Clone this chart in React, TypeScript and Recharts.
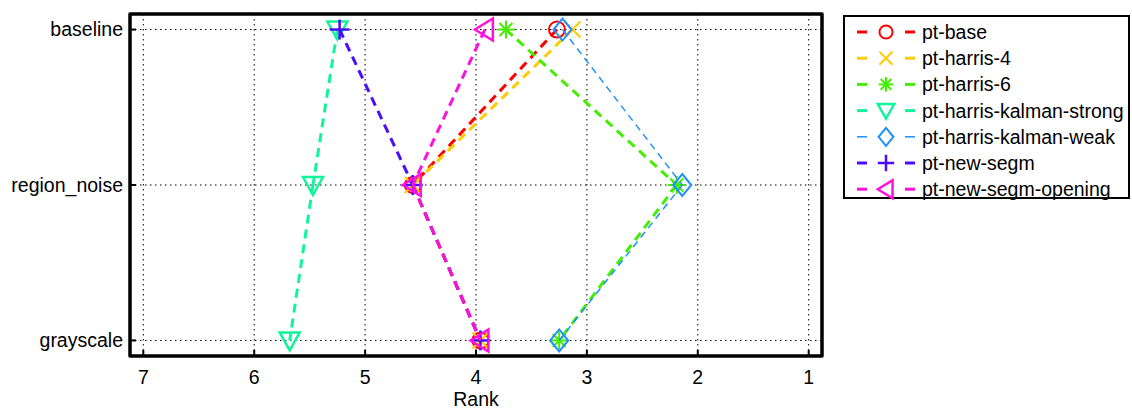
import React from 'react';
import { ScatterChart, Scatter, XAxis, YAxis, CartesianGrid, ReferenceArea } from 'recharts';

// test conditions, top to bottom, and the level each one sits at on the y axis
const conditions = ['baseline', 'region_noise', 'grayscale'];
const conditionLevels = [3, 2, 1];

const rankTicks = [1, 2, 3, 4, 5, 6, 7];

// average rank per condition (baseline, region_noise, grayscale)
const rankPtBase = [3.27, 4.57, 3.96];
const rankPtHarris4 = [3.13, 4.57, 3.96];
const rankPtHarris6 = [3.73, 2.19, 3.25];
const rankPtHarrisKalmanStrong = [5.25, 5.47, 5.68];
const rankPtHarrisKalmanWeak = [3.22, 2.14, 3.25];
const rankPtNewSegm = [5.23, 4.57, 3.96];
const rankPtNewSegmOpening = [3.92, 4.57, 3.96];

type MarkerKind = 'circle' | 'cross' | 'star' | 'triDown' | 'diamond' | 'plus' | 'triLeft';

interface Method {
  name: string;
  ranks: number[];
  color: string;
  marker: MarkerKind;
  width: number;
  dash: string;
}

const methods: Method[] = [
  { name: 'pt-base', ranks: rankPtBase, color: '#ff0000', marker: 'circle', width: 3, dash: '9 6' },
  { name: 'pt-harris-4', ranks: rankPtHarris4, color: '#ffcc00', marker: 'cross', width: 3, dash: '9 6' },
  { name: 'pt-harris-6', ranks: rankPtHarris6, color: '#44ee00', marker: 'star', width: 3, dash: '9 6' },
  { name: 'pt-harris-kalman-strong', ranks: rankPtHarrisKalmanStrong, color: '#11f59a', marker: 'triDown', width: 3, dash: '9 6' },
  { name: 'pt-harris-kalman-weak', ranks: rankPtHarrisKalmanWeak, color: '#1e90ff', marker: 'diamond', width: 1.5, dash: '7 5' },
  { name: 'pt-new-segm', ranks: rankPtNewSegm, color: '#4a0cff', marker: 'plus', width: 3, dash: '9 6' },
  { name: 'pt-new-segm-opening', ranks: rankPtNewSegmOpening, color: '#ff11dd', marker: 'triLeft', width: 3, dash: '9 6' },
];

const FONT = '"Liberation Sans", Arial, sans-serif';
const rankDomain: [number, number] = [0.88, 7.12];
const levelDomain: [number, number] = [0.9, 3.1];

function Glyph({ kind, cx, cy, color, s = 1 }: { kind: MarkerKind; cx: number; cy: number; color: string; s?: number }) {
  const common = { stroke: color, strokeWidth: 2, fill: 'none' };
  switch (kind) {
    case 'circle':
      return <circle cx={cx} cy={cy} r={8 * s} {...common} />;
    case 'cross':
      return (
        <g {...common}>
          <line x1={cx - 8 * s} y1={cy - 8 * s} x2={cx + 8 * s} y2={cy + 8 * s} />
          <line x1={cx - 8 * s} y1={cy + 8 * s} x2={cx + 8 * s} y2={cy - 8 * s} />
        </g>
      );
    case 'star':
      return (
        <g {...common}>
          <line x1={cx - 9 * s} y1={cy} x2={cx + 9 * s} y2={cy} />
          <line x1={cx} y1={cy - 9 * s} x2={cx} y2={cy + 9 * s} />
          <line x1={cx - 6.5 * s} y1={cy - 6.5 * s} x2={cx + 6.5 * s} y2={cy + 6.5 * s} />
          <line x1={cx - 6.5 * s} y1={cy + 6.5 * s} x2={cx + 6.5 * s} y2={cy - 6.5 * s} />
        </g>
      );
    case 'triDown':
      return (
        <polygon
          points={`${cx - 10 * s},${cy - 8 * s} ${cx + 10 * s},${cy - 8 * s} ${cx},${cy + 10 * s}`}
          {...common}
          strokeWidth={2.5}
        />
      );
    case 'diamond':
      return (
        <polygon
          points={`${cx},${cy - 11 * s} ${cx + 9 * s},${cy} ${cx},${cy + 11 * s} ${cx - 9 * s},${cy}`}
          {...common}
        />
      );
    case 'plus':
      return (
        <g {...common} strokeWidth={2.5}>
          <line x1={cx - 10 * s} y1={cy} x2={cx + 10 * s} y2={cy} />
          <line x1={cx} y1={cy - 10 * s} x2={cx} y2={cy + 10 * s} />
        </g>
      );
    case 'triLeft':
      return (
        <polygon
          points={`${cx - 10 * s},${cy} ${cx + 8 * s},${cy - 11 * s} ${cx + 8 * s},${cy + 11 * s}`}
          {...common}
          strokeWidth={2.5}
        />
      );
  }
  return null;
}

const seriesData = methods.map((m) =>
  m.ranks.map((rank, i) => ({ x: rank, y: conditionLevels[i], condition: conditions[i] }))
);

const levelLabel = (v: number) => conditions[conditionLevels.indexOf(v)] ?? '';

const tickStyle = { fill: '#000', fontSize: 19.5, fontFamily: FONT };
const tickLineStyle = { stroke: '#000', strokeWidth: 2 };

// connect consecutive points one segment at a time so the dash pattern
// restarts at every point (lines sharing a segment then overlap exactly)
function segmentLine(m: Method) {
  return (props: any) => {
    const pts: { x: number; y: number }[] = props.points || [];
    return (
      <g>
        {pts.slice(1).map((p, i) => (
          <line
            key={i}
            x1={pts[i].x}
            y1={pts[i].y}
            x2={p.x}
            y2={p.y}
            stroke={m.color}
            strokeWidth={m.width}
            strokeDasharray={m.dash}
          />
        ))}
      </g>
    );
  };
}

function MethodLegend() {
  const rowH = 26.2;
  return (
    <div
      style={{
        position: 'absolute',
        left: 843,
        top: 15,
        width: 287,
        height: 184,
        boxSizing: 'border-box',
        border: '2px solid #000',
        background: '#fff',
      }}
    >
      <svg width={283} height={180} style={{ display: 'block', overflow: 'visible' }}>
        {methods.map((m, i) => {
          const cy = 15 + i * rowH;
          return (
            <g key={m.name}>
              <line x1={12} x2={22} y1={cy} y2={cy} stroke={m.color} strokeWidth={m.width} />
              <line x1={60} x2={70} y1={cy} y2={cy} stroke={m.color} strokeWidth={m.width} />
              <Glyph kind={m.marker} cx={41} cy={cy} color={m.color} s={0.82} />
              <text x={77} y={cy + 7} fontSize={19.5} fontFamily={FONT} fill="#000">
                {m.name}
              </text>
            </g>
          );
        })}
      </svg>
    </div>
  );
}

export default function App() {
  return (
    <div style={{ position: 'absolute', left: 0, top: 0, width: 1132, height: 411, background: '#fff' }}>
      <ScatterChart width={1132} height={411} margin={{ top: 14, right: 310, bottom: 0, left: 0 }}>
        <CartesianGrid stroke="#000" strokeDasharray="1.5 3.5" strokeWidth={1} />
        <XAxis
          type="number"
          dataKey="x"
          domain={rankDomain}
          allowDataOverflow
          reversed
          ticks={rankTicks}
          interval={0}
          height={55}
          tickLine={tickLineStyle}
          tickSize={-6}
          tickMargin={20}
          axisLine={{ stroke: '#000', strokeWidth: 3 }}
          tick={tickStyle}
          label={{ value: 'Rank', position: 'insideBottom', offset: 5, fill: '#000', fontSize: 19.5, fontFamily: FONT }}
        />
        <XAxis
          xAxisId="top"
          type="number"
          domain={rankDomain}
          allowDataOverflow
          reversed
          ticks={rankTicks}
          interval={0}
          orientation="top"
          mirror
          height={30}
          tick={false}
          axisLine={{ stroke: '#000', strokeWidth: 3 }}
          tickLine={tickLineStyle}
          tickSize={6}
        />
        <YAxis
          type="number"
          dataKey="y"
          domain={levelDomain}
          allowDataOverflow
          ticks={conditionLevels}
          interval={0}
          width={130}
          tickLine={tickLineStyle}
          tickSize={-6}
          tickMargin={13}
          tickFormatter={levelLabel}
          axisLine={{ stroke: '#000', strokeWidth: 3 }}
          tick={tickStyle}
        />
        <YAxis
          yAxisId="right"
          type="number"
          domain={levelDomain}
          allowDataOverflow
          ticks={conditionLevels}
          interval={0}
          orientation="right"
          mirror
          width={30}
          tick={false}
          axisLine={{ stroke: '#000', strokeWidth: 3 }}
          tickLine={tickLineStyle}
          tickSize={6}
        />
        <ReferenceArea
          x1={rankDomain[0]}
          x2={rankDomain[1]}
          y1={levelDomain[0]}
          y2={levelDomain[1]}
          fill="none"
          stroke="#000"
          strokeWidth={3}
          fillOpacity={0}
          strokeOpacity={1}
          ifOverflow="visible"
        />
        {methods.map((m, i) => (
          <Scatter
            key={m.name}
            name={m.name}
            data={seriesData[i]}
            fill={m.color}
            isAnimationActive={false}
            line={segmentLine(m)}
            lineType="joint"
            shape={(p: any) => <Glyph kind={m.marker} cx={p.cx} cy={p.cy} color={m.color} />}
          />
        ))}
      </ScatterChart>
      <MethodLegend />
    </div>
  );
}
